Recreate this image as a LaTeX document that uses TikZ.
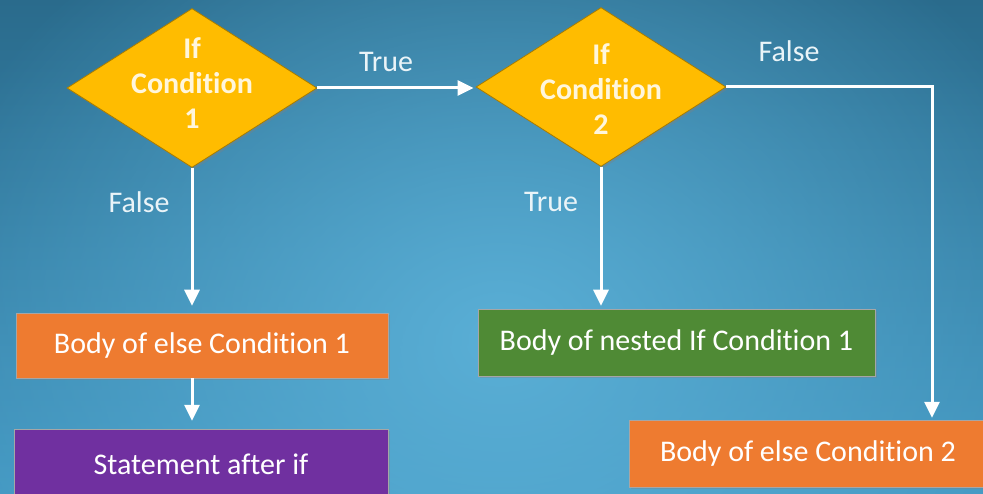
\documentclass[tikz,border=0pt]{standalone}
\usepackage{fontspec}
\setmainfont{Carlito}[Ligatures=NoCommon,Contextuals=NoAlternate]
\usetikzlibrary{shapes.geometric,arrows.meta,shadows,fadings}
\definecolor{bgtop}{HTML}{2A6B8C}
\definecolor{bgbot}{HTML}{4398C2}
\definecolor{bgin}{HTML}{5AAFD6}
\definecolor{gold}{HTML}{FFBC00}
\definecolor{goldline}{HTML}{A87C00}
\definecolor{orng}{HTML}{EE7B30}
\definecolor{grn}{HTML}{4F8A35}
\definecolor{purp}{HTML}{7030A0}
\definecolor{lbl}{HTML}{EAF4F8}
\definecolor{cream}{HTML}{FFF6DC}
\tikzfading[name=softglow, inner color=transparent!0, outer color=transparent!100]
\tikzset{
  dia/.style={diamond, draw=goldline, line width=0.8pt, fill=gold,
    minimum width=250pt, minimum height=159pt, inner sep=0pt,
    drop shadow={opacity=0.35, shadow xshift=2pt, shadow yshift=-2pt}},
  diatext/.style={text=cream, font=\fontsize{30}{35}\selectfont\bfseries, align=center},
  box/.style={rectangle, draw=black!35, line width=0.5pt, text=white,
    font=\fontsize{30}{34}\selectfont, inner sep=0pt,
    drop shadow={opacity=0.35, shadow xshift=2pt, shadow yshift=-2pt}},
  lab/.style={text=lbl, font=\fontsize{30}{34}\selectfont, anchor=base},
  conn/.style={draw=white, line width=3pt, -{Triangle[length=16pt,width=15pt]}}
}
\begin{document}
\begin{tikzpicture}[x=1pt,y=-1pt]
\useasboundingbox (0,0) rectangle (983,494);
\clip (0,0) rectangle (983,494);
\fill[top color=bgtop, bottom color=bgbot] (0,0) rectangle (983,494);
\fill[bgin, path fading=softglow] (-100,-160) rectangle (1100,840);

\node[dia, label={[diatext, yshift=5pt]center:{If\\Condition\\1}}] (d1) at (192,88) {};
\node[dia, label={[diatext, yshift=-2pt]center:{If\\Condition\\2}}] (d2) at (601,87) {};

\node[box, fill=orng, minimum width=372pt, minimum height=65pt] (b1) at (202,345.5) {Body of else Condition 1};
\node[box, fill=grn, minimum width=397pt, minimum height=67pt] (b2) at (676.5,342.5) {Body of nested If Condition 1};
\node[box, fill=purp, minimum width=374pt, minimum height=71pt] (b3) at (201,464.5) {Statement after if};
\node[box, fill=orng, minimum width=358pt, minimum height=67pt] (b4) at (808,453.5) {Body of else Condition 2};

\coordinate (k) at (932,87);

\draw[conn, shorten >=2pt] (d1.east) -- (d1.east -| d2.west);
\draw[conn, shorten >=7pt] (d1.south) -- (d1.south |- b1.north);
\draw[conn, shorten >=3pt] (d2.south) -- (d2.south |- b2.north);
\draw[conn, shorten >=8pt] (d1.south |- b1.south) -- (d1.south |- b3.north);
\draw[conn, shorten >=2pt] (d2.east) -- (k) -- (k |- b4.north);

\node[lab] (t1) at (386,72) {True};
\node[lab] (f1) at (139,213) {False};
\node[lab] (t2) at (551,212) {True};
\node[lab] (f2) at (789,62) {False};
\end{tikzpicture}
\end{document}
